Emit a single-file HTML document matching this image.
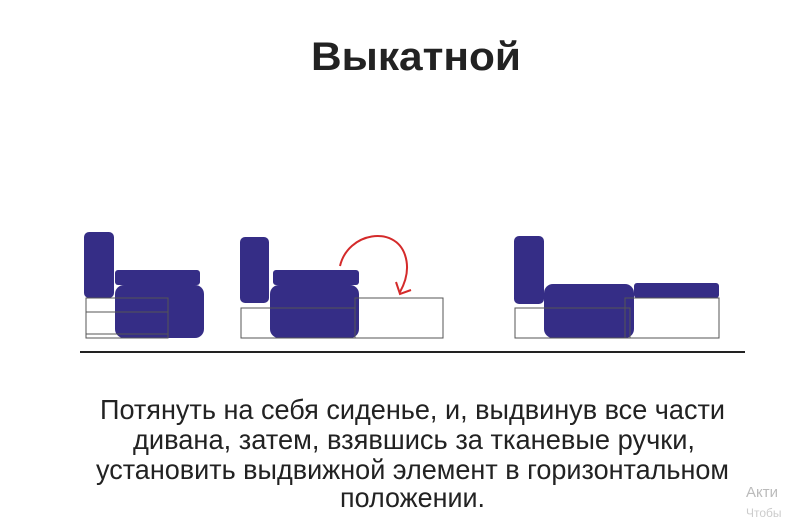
<!DOCTYPE html>
<html><head><meta charset="utf-8"><style>
html,body{margin:0;padding:0;background:#fff;width:792px;height:521px;overflow:hidden}
</style></head><body>
<svg width="792" height="521" viewBox="0 0 792 521" xmlns="http://www.w3.org/2000/svg">
<rect width="792" height="521" fill="#fff"/>
<text x="311" y="70" font-family="Liberation Sans, sans-serif" font-weight="bold" font-size="40" fill="#222" textLength="210" lengthAdjust="spacingAndGlyphs">Выкатной</text>

<g fill="#352d86">
<rect x="84" y="232" width="30" height="66" rx="5"/>
<rect x="115" y="270" width="85" height="15" rx="3"/>
<rect x="115" y="285" width="89" height="53" rx="9"/>
<rect x="240" y="237" width="29" height="66" rx="5"/>
<rect x="273" y="270" width="86" height="15" rx="3"/>
<rect x="270" y="285" width="89" height="53" rx="9"/>
<rect x="514" y="236" width="30" height="68" rx="5"/>
<rect x="544" y="284" width="90" height="54" rx="9"/>
<rect x="634" y="283" width="85" height="15" rx="3"/>
</g>
<g fill="none" stroke="#555" stroke-width="1">
<rect x="86" y="298" width="82" height="40"/>
<line x1="86" y1="312" x2="168" y2="312"/>
<line x1="86" y1="334" x2="168" y2="334"/>
<rect x="241" y="308" width="114" height="30"/>
<rect x="355" y="298" width="88" height="40"/>
<rect x="515" y="308" width="115" height="30"/>
<rect x="625" y="298" width="94" height="40"/>
</g>
<path d="M340 266 C348 232 395 225 405 255 C410 270 405 283 400 292" fill="none" stroke="#d42a2a" stroke-width="2"/>
<path d="M396 282 L400 294 L411 290" fill="none" stroke="#d42a2a" stroke-width="2"/>
<line x1="80" y1="352" x2="745" y2="352" stroke="#222" stroke-width="2"/>

<g font-family="Liberation Sans Narrow, Liberation Sans, sans-serif" font-size="28" fill="#222">
<text x="100" y="419" textLength="625" lengthAdjust="spacingAndGlyphs">Потянуть на себя сиденье, и, выдвинув все части</text>
<text x="133" y="449" textLength="562" lengthAdjust="spacingAndGlyphs">дивана, затем, взявшись за тканевые ручки,</text>
<text x="96" y="479" textLength="633" lengthAdjust="spacingAndGlyphs">установить выдвижной элемент в горизонтальном</text>
<text x="340" y="507" textLength="145" lengthAdjust="spacingAndGlyphs">положении.</text>
</g>
<text x="746" y="497" font-family="Liberation Sans, sans-serif" font-size="15" fill="#bbb">Акти</text>
<text x="746" y="517" font-family="Liberation Sans, sans-serif" font-size="12" fill="#ccc">Чтобы</text>
</svg>
</body></html>
